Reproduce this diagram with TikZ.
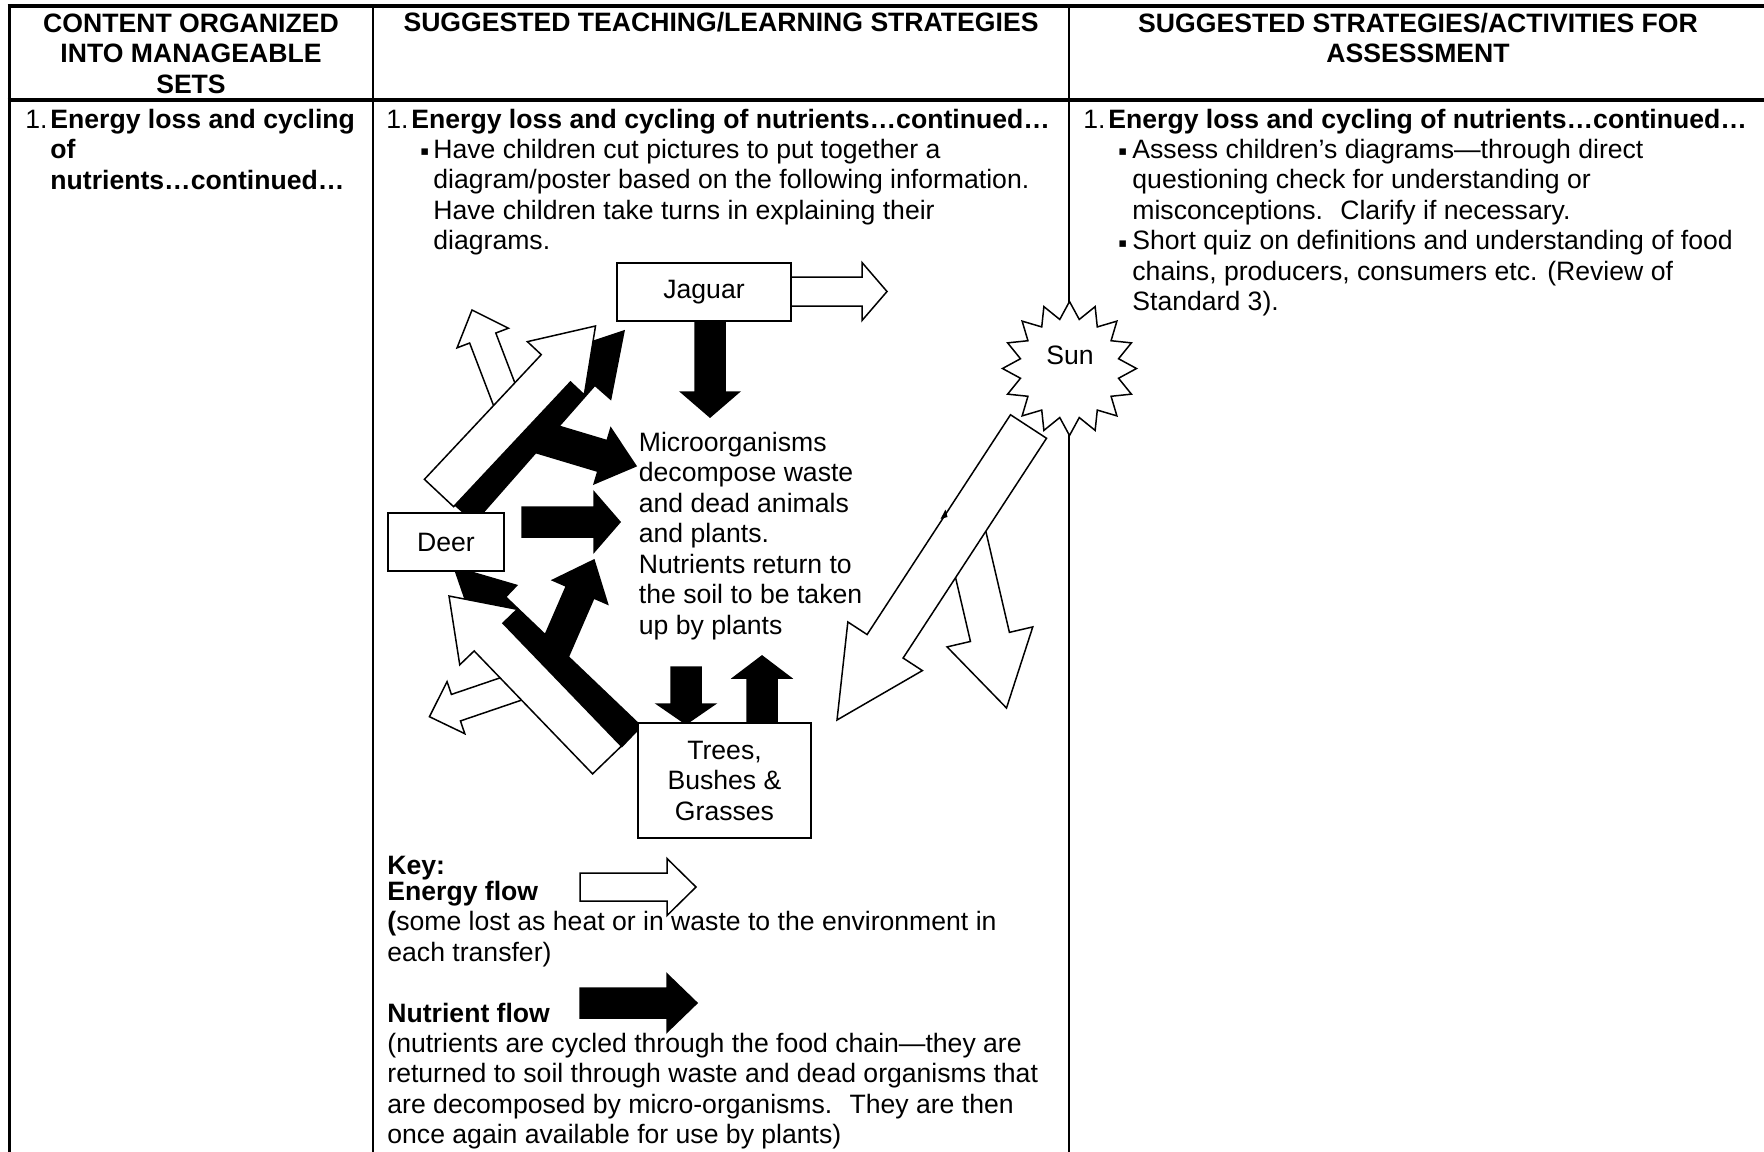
\documentclass[tikz,border=0pt]{standalone}
\usepackage{fontspec}
\setmainfont{Liberation Sans}
\newfontfamily\symfont{DejaVu Sans}
\newcommand{\bodyfont}{\fontsize{13.3}{15.25}\selectfont}
\newcommand{\sqbul}{\raisebox{1.2pt}{\symfont\fontsize{6.5}{6.5}\selectfont ▪}}

% block arrow: style, tail x, tail y, tip x, tip y, shaft width, head width, head length
\newcommand{\flow}[8]{%
  \pgfmathsetmacro{\fang}{atan2(#3-#5,#4-#2)}
  \pgfmathsetmacro{\flen}{veclen(#4-#2,#5-#3)}
  \begin{scope}[shift={(#2,#3)},rotate=\fang]
    \draw[#1] (0,-#6/2) -- (\flen-#8,-#6/2) -- (\flen-#8,-#7/2) -- (\flen,0)
      -- (\flen-#8,#7/2) -- (\flen-#8,#6/2) -- (0,#6/2) -- cycle;
  \end{scope}}

\tikzset{
  energy/.style={draw=black, fill=white, line width=.75pt},
  nutrient/.style={draw=black, fill=black, line width=.75pt},
  orgbox/.style={draw, fill=white, line width=.75pt, inner sep=0pt, align=center, font=\bodyfont},
  txt/.style={inner sep=0pt, anchor=base west, align=left, font=\bodyfont},
  head/.style={inner sep=0pt, anchor=base, align=center, font=\bodyfont\bfseries},
}

\begin{document}
\begin{tikzpicture}[x=.5pt,y=-.5pt]
\useasboundingbox (0,0) rectangle (1764,1151);

%TABLE
  \draw[line width=2pt] (7.5,6) -- (1770,6);
  \draw[line width=2pt] (7.5,99.5) -- (1770,99.5);
  \draw[line width=1.8pt] (9.5,4) -- (9.5,1160);
  \draw[line width=1pt] (372.7,6) -- (372.7,1160);
  \draw[line width=1pt] (1068.7,6) -- (1068.7,1160);

%HEADINGS (base of a node is its last line)
  \node[head] (h1) at (191,93) {CONTENT ORGANIZED\\INTO MANAGEABLE\\SETS};
  \node[head] (h2) at (721,32) {SUGGESTED TEACHING/LEARNING STRATEGIES};
  \node[head] (h3) at (1418,62.5) {SUGGESTED STRATEGIES/ACTIVITIES FOR\\ASSESSMENT};

%FIRST ROW
  \node[txt] (n1) at (25,128) {1.};
  \node[txt,font=\bodyfont\bfseries] (t1) at (50,189) {Energy loss and cycling\\of\\nutrients…continued…};
  \node[txt] (n2) at (386,128) {1.};
  \node[txt,font=\bodyfont\bfseries] (t2) at (411,128) {Energy loss and cycling of nutrients…continued…};
  \node[txt] (b2) at (420,158) {\sqbul};
  \node[txt] (t2a) at (433,249.5) {Have children cut pictures to put together a\\diagram/poster based on the following information.\\Have children take turns in explaining their\\diagrams.};
  \node[txt] (n3) at (1083,128) {1.};
  \node[txt,font=\bodyfont\bfseries] (t3) at (1108,128) {Energy loss and cycling of nutrients…continued…};
  \node[txt] (b3a) at (1118,158) {\sqbul};
  \node[txt] (t3a) at (1132,219) {Assess children’s diagrams—through direct\\questioning check for understanding or\\misconceptions.~ Clarify if necessary.};
  \node[txt] (b3b) at (1118,249.5) {\sqbul};
  \node[txt] (t3b) at (1132,310.5) {Short quiz on definitions and understanding of food\\chains, producers, consumers etc. (Review of\\Standard 3).};

%SUN
\begin{scope}[shift={(1069.5,368.5)}]
  \draw[line width=.75pt, fill=white] (90:67) \foreach \k in {1,...,31}{ -- ({90+\k*11.25}:{mod(\k,2)==0 ? 67 : 50}) } -- cycle;
\end{scope}
  \node[font=\bodyfont, inner sep=0pt] (sun) at (1070,355) {Sun};
  \flow{energy}{965}{530}{1006.5}{708}{40}{88}{73}
  \flow{energy}{1028.5}{426.5}{837}{720}{43}{89}{88}
  \fill (940.5,519) -- (945.5,509.5) -- (947.5,517) -- cycle;

%JAGUAR
  \flow{energy}{791}{291.5}{887}{291.5}{29}{58}{25}
  \flow{nutrient}{710}{321}{710}{417}{30}{58}{25}
  \node[orgbox, minimum width=87pt, minimum height=29pt] (jaguar) at (704,292) {Jaguar};

%DEER TO JAGUAR
  \flow{nutrient}{536}{436}{636}{466}{32}{58}{35}
  \flow{nutrient}{464}{513}{624}{331}{28}{70}{60}
  \flow{energy}{511}{412}{472}{310}{28}{55}{30}
  \flow{energy}{439}{493}{595.5}{326}{40}{78}{58}
  \flow{nutrient}{522}{522}{620}{522}{30}{60}{26}

%TREES TO DEER
  \flow{nutrient}{548}{666}{594}{560}{30}{60}{35}
  \flow{nutrient}{631.5}{736.4}{454}{567}{28}{60}{58}
  \flow{energy}{521}{685.5}{429.4}{716.7}{28}{55}{28}
  \flow{energy}{607}{760}{449}{596}{40}{80}{57}
  \node[orgbox, minimum width=58pt, minimum height=29pt] (deer) at (446,542) {Deer};

%TREES
  \flow{nutrient}{686}{667}{686}{724}{30}{58}{20}
  \flow{nutrient}{762}{723}{762}{656}{30}{58}{22}
  \node[orgbox, minimum width=86.5pt, minimum height=57.5pt] (trees) at (724.5,780.5) {Trees,\\Bushes \&\\Grasses};

  \node[txt] (micro) at (638.5,634) {Microorganisms\\decompose waste\\and dead animals\\and plants.\\Nutrients return to\\the soil to be taken\\up by plants};

%KEY
  \node[txt,font=\bodyfont\bfseries] (key) at (387,874) {Key:};
  \node[txt,font=\bodyfont\bfseries] (efl) at (387,900) {Energy flow};
  \node[txt] (etxt) at (387,961) {\textbf{(}some lost as heat or in waste to the environment in\\each transfer)};
  \node[txt,font=\bodyfont\bfseries] (nfl) at (387,1022) {Nutrient flow};
  \node[txt] (ntxt) at (387,1143.5) {(nutrients are cycled through the food chain—they are\\returned to soil through waste and dead organisms that\\are decomposed by micro-organisms.~ They are then\\once again available for use by plants)};
  \flow{energy}{580}{887}{696}{887}{28}{57}{29}
  \flow{nutrient}{580}{1003}{697}{1003}{30}{58}{30}
\end{tikzpicture}
\end{document}
